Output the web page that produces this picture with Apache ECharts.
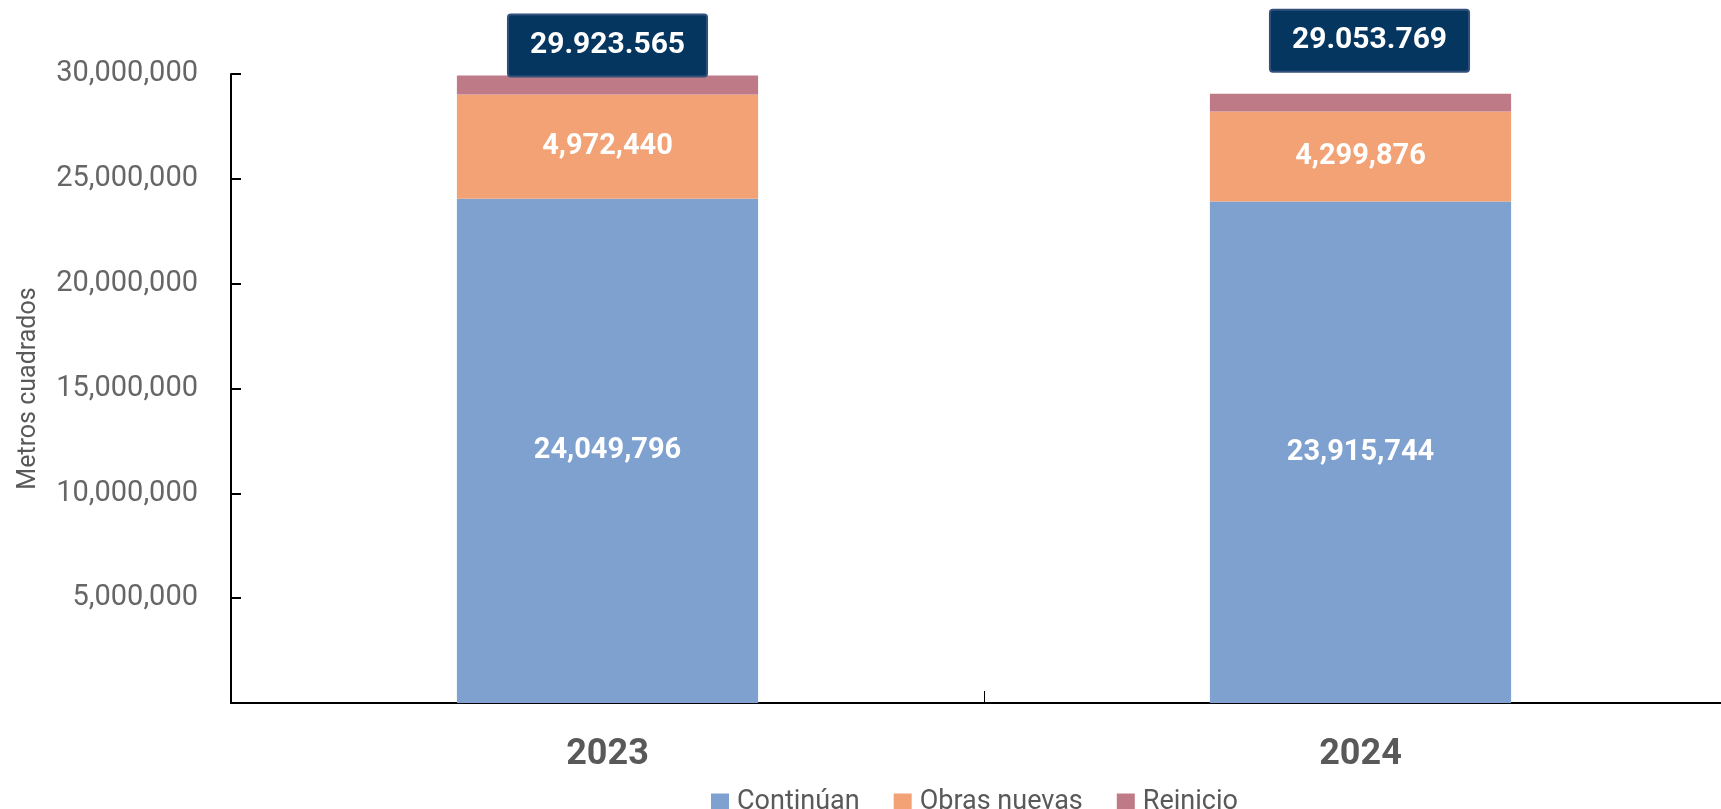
<!DOCTYPE html>
<html>
<head>
<meta charset="utf-8">
<script src="https://cdn.jsdelivr.net/npm/echarts@6/dist/echarts.min.js"></script>
<style>html,body{margin:0;padding:0;background:#fff}#c{width:1721px;height:809px}</style>
</head>
<body>
<div id="c"></div>
<script>
const categories = ['2023', '2024'];
const continuan = [24049796, 23915744];
const obrasNuevas = [4972440, 4299876];
const reinicio = [901329, 838149];
const totals = ['29.923.565', '29.053.769'];
const yTicks = [0, 5000000, 10000000, 15000000, 20000000, 25000000, 30000000];

const FONT = 'Roboto';
const fmt = v => v.toString().replace(/\B(?=(\d{3})+(?!\d))/g, ',');

// label placement per total box (style, not data)
const totalLabelStyle = [
  { distance: 0, offset: [0, 0] },
  { distance: 23, offset: [9, 0] }
];

const chart = echarts.init(document.getElementById('c'), null, { renderer: 'canvas' });

const innerLabel = {
  show: true, position: 'inside', color: '#fff', fontFamily: FONT,
  fontWeight: 'bold', fontSize: 29, formatter: p => fmt(p.value)
};

chart.setOption({
  animation: false,
  textStyle: { fontFamily: FONT },
  grid: { left: 231, top: 74, width: 1506, bottom: 106, containLabel: false, outerBoundsMode: 'none' },
  legend: {
    left: 706, top: 784, itemWidth: 18, itemHeight: 18, itemGap: 34,
    icon: 'rect',
    textStyle: { fontFamily: FONT, fontSize: 27, color: '#595959', padding: [0, 0, 0, 3] },
    data: ['Continúan', 'Obras nuevas', 'Reinicio']
  },
  xAxis: {
    type: 'category', data: categories,
    axisLine: { lineStyle: { color: '#000', width: 2 } },
    axisTick: { show: true, inside: true, length: 12, lineStyle: { color: '#000', width: 1 } },
    axisLabel: { fontFamily: FONT, fontSize: 36, fontWeight: 'bold', color: '#595959', margin: 34 }
  },
  yAxis: {
    type: 'value', min: yTicks[0], max: yTicks[yTicks.length - 1], interval: yTicks[1] - yTicks[0],
    name: 'Metros cuadrados', nameLocation: 'middle', nameGap: 190,
    nameTextStyle: { fontFamily: FONT, fontSize: 25, color: '#595959' },
    axisLine: { show: true, lineStyle: { color: '#000', width: 2 } },
    axisTick: { show: true, inside: true, length: 10, lineStyle: { color: '#000', width: 2 } },
    axisLabel: {
      fontFamily: FONT, fontSize: 29, color: '#666', margin: 33,
      formatter: v => (v === 0 ? '' : fmt(v))
    },
    splitLine: { show: false }
  },
  series: [
    {
      name: 'Continúan', type: 'bar', stack: 'total', barWidth: '40%',
      itemStyle: { color: '#7EA1D0' }, label: innerLabel, data: continuan
    },
    {
      name: 'Obras nuevas', type: 'bar', stack: 'total',
      itemStyle: { color: '#F2A275' }, label: innerLabel, data: obrasNuevas
    },
    {
      name: 'Reinicio', type: 'bar', stack: 'total',
      itemStyle: { color: '#BF7A87' },
      data: reinicio.map((v, i) => ({
        value: v,
        label: {
          show: true, position: 'top',
          distance: totalLabelStyle[i].distance, offset: totalLabelStyle[i].offset,
          formatter: () => totals[i],
          color: '#fff', fontFamily: FONT, fontWeight: 'bold', fontSize: 30,
          backgroundColor: '#04365F', borderColor: '#34517C', borderWidth: 2,
          borderRadius: 2, padding: [14, 21, 14, 21], lineHeight: 32
        }
      }))
    }
  ]
});
</script>
</body>
</html>
